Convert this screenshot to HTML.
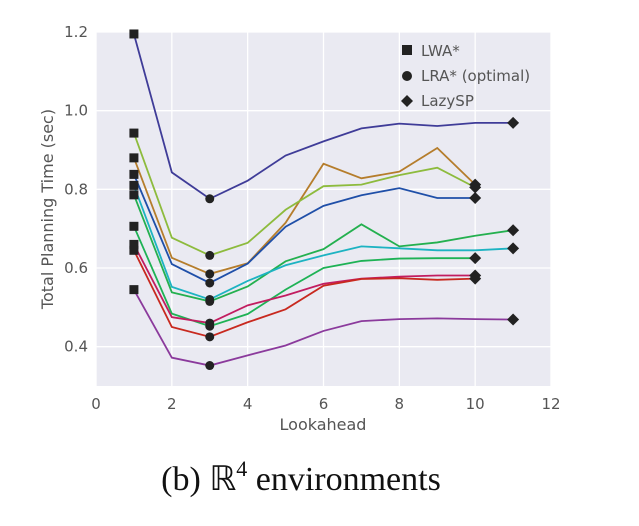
<!DOCTYPE html>
<html><head><meta charset="utf-8"><style>
body{margin:0;background:#fff;}
svg text{font-family:"DejaVu Sans","Liberation Sans",sans-serif;}
</style></head><body>
<svg id="chart" width="639" height="521" xmlns="http://www.w3.org/2000/svg">
<rect x="96" y="32" width="455" height="354" fill="#eaeaf2"/>
<g id="grid"></g><g id="ticks"></g><g id="series"></g>
<text x="323" y="430" font-size="16" fill="#555" text-anchor="middle">Lookahead</text>
<text transform="translate(53,209) rotate(-90)" font-size="16" fill="#555" text-anchor="middle">Total Planning Time (sec)</text>
<g font-size="15" fill="#555">
<rect x="402" y="45" width="10" height="10" fill="#222"/>
<text x="421" y="56">LWA*</text>
<circle cx="407" cy="76" r="5" fill="#222"/>
<text x="421" y="81">LRA* (optimal)</text>
<path d="M407,95 l6,6 -6,6 -6,-6z" fill="#222"/>
<text x="421" y="106">LazySP</text>
</g>
<text x="301" y="490" font-size="34" fill="#111" text-anchor="middle" style="font-family:'Liberation Serif',serif">(b) ℝ<tspan font-size="22" dy="-14">4</tspan><tspan dy="14"> environments</tspan></text>
</svg>
<script>
const xTicks=[0,2,4,6,8,10,12];
const yTicks=[0.4,0.6,0.8,1.0,1.2];
const yTickLabels=["0.4","0.6","0.8","1.0","1.2"];
const lookahead=[1,2,3,4,5,6,7,8,9,10,11];
const colors=["#3f3c98","#b57d2c","#8dbb3d","#1f4fa8","#24b04f","#1db3c2","#1eb255","#c21d60","#c8291f","#8b3a9c"];
const sNavy=[1.195,0.843,0.776,0.822,0.886,0.922,0.955,0.967,0.961,0.969,0.969];
const sBrown=[0.88,0.626,0.585,0.612,0.715,0.865,0.828,0.845,0.905,0.812];
const sLime=[0.943,0.677,0.632,0.664,0.748,0.808,0.812,0.836,0.855,0.805];
const sBlue=[0.838,0.61,0.562,0.611,0.705,0.758,0.785,0.803,0.778,0.778];
const sGreen1=[0.786,0.538,0.515,0.553,0.617,0.648,0.711,0.655,0.665,0.682,0.696];
const sCyan=[0.81,0.552,0.52,0.567,0.607,0.632,0.655,0.65,0.645,0.645,0.65];
const sGreen2=[0.706,0.484,0.452,0.483,0.545,0.6,0.618,0.624,0.625,0.625];
const sMagenta=[0.66,0.475,0.46,0.505,0.53,0.56,0.573,0.578,0.581,0.581];
const sRed=[0.645,0.45,0.425,0.462,0.495,0.555,0.572,0.574,0.57,0.573];
const sPurple=[0.545,0.372,0.352,0.378,0.403,0.44,0.465,0.47,0.472,0.47,0.469];
const seriesNames=["navy","brown","lime","blue","green-upper","cyan","green-lower","magenta","red","purple"];
const allSeries=[sNavy,sBrown,sLime,sBlue,sGreen1,sCyan,sGreen2,sMagenta,sRed,sPurple];
const X=v=>96+v*(455/12);
const Y=v=>386-(v-0.3)*(354/0.9);
const NS="http://www.w3.org/2000/svg";
function mk(t,a,p){const e=document.createElementNS(NS,t);for(const k in a)e.setAttribute(k,a[k]);p.appendChild(e);return e;}
const grid=document.getElementById('grid'),ticks=document.getElementById('ticks'),ser=document.getElementById('series');
xTicks.forEach(t=>{
 const l=mk('line',{x1:X(t),x2:X(t),y1:32,y2:386,stroke:'#fff','stroke-width':1.3},grid);
 
 
 const tx=mk('text',{x:X(t),y:409,'font-size':15,fill:'#555','text-anchor':'middle'},ticks);
 tx.textContent=t;
 
 
});
yTicks.forEach((t,i)=>{
 const l=mk('line',{x1:96,x2:551,y1:Y(t),y2:Y(t),stroke:'#fff','stroke-width':1.3},grid);
 
 
 const tx=mk('text',{x:88,y:Y(t)+5,'font-size':15,fill:'#555','text-anchor':'end'},ticks);
 tx.textContent=yTickLabels[i];
 
 
});
allSeries.forEach((s,i)=>{
 const pts=s.map((v,j)=>X(lookahead[j])+','+Y(v)).join(' ');
 const pl=mk('polyline',{points:pts,fill:'none',stroke:colors[i],'stroke-width':1.8},ser);
 
 
});
allSeries.forEach((s,i)=>{
 const sq=mk('rect',{x:X(lookahead[0])-4.5,y:Y(s[0])-4.5,width:9,height:9,fill:'#222'},ser);
 
 
 const c=mk('circle',{cx:X(lookahead[2]),cy:Y(s[2]),r:4.5,fill:'#222'},ser);
 
 
 const n=s.length-1,x=X(lookahead[n]),y=Y(s[n]);
 const d=mk('path',{d:`M${x},${y-6} l6,6 -6,6 -6,-6z`,fill:'#222'},ser);
 
 
});
</script>
</body></html>
